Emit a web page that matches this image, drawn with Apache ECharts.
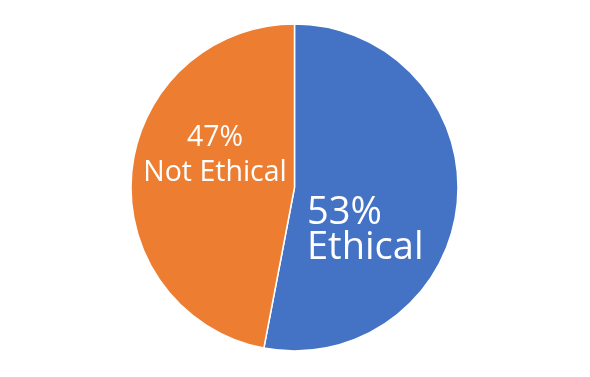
<!DOCTYPE html>
<html><head><meta charset="utf-8">
<script src="https://cdn.jsdelivr.net/npm/echarts@6/dist/echarts.min.js"></script>
<style>html,body{margin:0;padding:0;background:#fff}#c{width:590px;height:377px}</style>
</head><body><div id="c"></div>
<script>
var categories = ['Ethical', 'Not Ethical'];
var values = [53, 47];
var colors = ['#4472C4', '#ED7D31'];

var chart = echarts.init(document.getElementById('c'), null, {renderer: 'canvas'});
var labelCfg = [
  {x: 307, y: 196, align: 'left', rich: {t: {fontSize: 38, lineHeight: 35, color: '#fff', fontFamily: 'Open Sans'}}},
  {x: 215, y: 120.5, align: 'center', rich: {t: {fontSize: 28.5, lineHeight: 35, color: '#fff', fontFamily: 'Open Sans'}}}
];
chart.setOption({
  animation: false,
  series: [{
    type: 'pie',
    center: [294.5, 187.5],
    radius: [0, 163.5],
    startAngle: 90,
    clockwise: true,
    itemStyle: {borderColor: '#fff', borderWidth: 1.5},
    label: {
      show: true,
      position: 'inside',
      formatter: function (p) { return '{t|' + p.value + '%}\n{t|' + p.name + '}'; }
    },
    labelLine: {show: false},
    labelLayout: function (p) {
      var c = labelCfg[p.dataIndex];
      return {x: c.x, y: c.y, align: c.align, verticalAlign: 'top'};
    },
    data: categories.map(function (n, i) {
      return {
        name: n, value: values[i],
        itemStyle: {color: colors[i]},
        label: {align: labelCfg[i].align, rich: labelCfg[i].rich}
      };
    })
  }]
});
</script></body></html>
